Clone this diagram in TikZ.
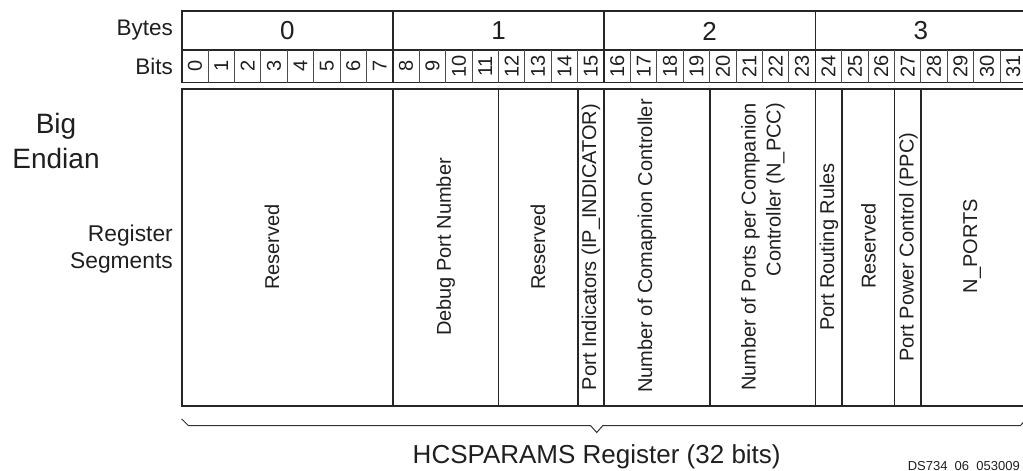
\documentclass[tikz,border=0pt]{standalone}
\usepackage{fontspec}
\setmainfont{Liberation Sans}
\begin{document}
\begin{tikzpicture}[x=1pt,y=-1pt,
  frame/.style={line width=1.6pt, draw=black!85},
  bitline/.style={line width=0.9pt, draw=black!70},
  rowlbl/.style={font=\fontsize{22.5}{26}\selectfont, text=black!88, anchor=east, inner sep=0pt},
  sidelbl/.style={font=\fontsize{22.8}{26}\selectfont, text=black!88, anchor=base east, inner sep=0pt},
  endlbl/.style={font=\fontsize{28}{32}\selectfont, text=black!88, anchor=base, inner sep=0pt},
  bytenum/.style={font=\fontsize{26}{30}\selectfont, text=black!88, inner sep=0pt},
  bitnum/.style={font=\fontsize{20}{22}\selectfont, text=black!88, rotate=90, inner sep=0pt},
  seglbl/.style={font=\fontsize{20}{25}\selectfont, text=black!88, rotate=90, inner sep=0pt, align=right},
  brace/.style={line width=1pt, draw=black!80}]
\useasboundingbox (0,0) rectangle (1023,471);

% geometry: left edge and bit width
\def\xl{181.7}
\def\bw{26.4}

% header frame: byte row and bit row
\draw[frame] (\xl,11) rectangle ({\xl+32*\bw},82.5);
\draw[frame] (\xl,50) -- ({\xl+32*\bw},50);
\foreach \i in {8,16,24}
  \draw[frame] ({\xl+\i*\bw},11) -- ({\xl+\i*\bw},82.5);
\foreach \i in {1,...,7,9,10,...,15,17,18,...,23,25,26,...,31}
  \draw[bitline] ({\xl+\i*\bw},50) -- ({\xl+\i*\bw},82.5);

% byte numbers
\foreach \b in {0,1,2,3}
  \node[bytenum] (byte\b) at ({\xl+(8*\b+4)*\bw},31) {\b};
% bit numbers
\foreach \i in {0,...,31}
  \node[bitnum] (bit\i) at ({\xl+(\i+0.5)*\bw},66.3) {\i};

% row labels
\node[rowlbl] (bytes) at (173,30.5) {Bytes};
\node[rowlbl] (bits) at (173,66.3) {Bits};

% register segments frame
\draw[frame] (\xl,88.7) rectangle ({\xl+32*\bw},406);
\foreach \i in {8,12,15,16,20,24,25,27,28}
  \draw[frame] ({\xl+\i*\bw},88.7) -- ({\xl+\i*\bw},406);

% segment labels
\node[seglbl] (s0) at (272,247) {Reserved};
\node[seglbl] (s1) at (445.7,247) {Debug Port Number};
\node[seglbl] (s2) at (538,247) {Reserved};
\node[seglbl] (s3) at (591,247) {Port Indicators (IP\_INDICATOR)};
\node[seglbl] (s4) at (647,246) {Number of Comapnion Controller};
\node[seglbl] (s5) at (763,247) {Number of Ports per Companion\\Controller (N\_PCC)};
\node[seglbl] (s6) at (829,247) {Port Routing Rules};
\node[seglbl] (s7) at (868.5,246) {Reserved};
\node[seglbl] (s8) at (908.5,247) {Port Power Control (PPC)};
\node[seglbl] (s9) at (972,246) {N\_PORTS};

% side labels
\node[endlbl] (big) at (56,133) {Big};
\node[endlbl] (endian) at (56,168) {Endian};
\node[sidelbl] (register) at (173,241.7) {Register};
\node[sidelbl] (segments) at (173,268.3) {Segments};

% brace under the register
\draw[brace] (\xl,419) -- (188.3,425.5) -- (590.5,425.5) -- (596.7,432.5)
  -- (602.9,425.5) -- (1020.5,425.5) -- (1026.5,419);

% caption and figure code
\node[font=\fontsize{26}{30}\selectfont, text=black!88, anchor=base, inner sep=0pt]
  (title) at (596.7,463.3) {HCSPARAMS Register (32 bits)};
\node[font=\fontsize{13}{15}\selectfont, text=black!88, anchor=base east, inner sep=0pt]
  (code) at (1020,470) {DS734\_06\_053009};
\end{tikzpicture}
\end{document}
